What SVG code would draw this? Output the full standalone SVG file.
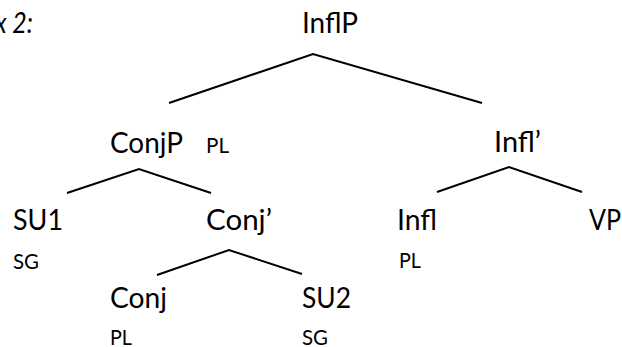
<svg xmlns="http://www.w3.org/2000/svg" width="622" height="347" viewBox="0 0 622 347">
  <style>
    .cat { font-family: Lato, "Open Sans", "Noto Sans", sans-serif; font-size: 28px; fill: #000; }
    .feat { font-family: Lato, "Open Sans", "Noto Sans", sans-serif; font-size: 21px; fill: #000; }
    .title { font-family: Lato, "Open Sans", "Noto Sans", sans-serif; font-size: 28px; font-style: italic; fill: #000; }
    .edge { fill: none; stroke: #000; stroke-width: 2; stroke-linejoin: miter; }
  </style>
  <rect width="622" height="347" fill="#fff"/>

  <text class="title" x="-5" y="33" textLength="38" lengthAdjust="spacingAndGlyphs">x 2:</text>

  <!-- branches -->
  <g id="connectors">
    <polyline class="edge" points="169,103 313,54 482,103"/>
    <polyline class="edge" points="67,193 139,169 211,193"/>
    <polyline class="edge" points="437,192 509,167 582,192"/>
    <polyline class="edge" points="157,275 229,250 302,274"/>
  </g>

  <g id="InflP">
    <text class="cat" x="302" y="33" textLength="56" lengthAdjust="spacingAndGlyphs">InflP</text>
  </g>
  <g id="ConjP">
    <text class="cat" x="110" y="153" textLength="73" lengthAdjust="spacingAndGlyphs">ConjP</text>
    <text class="feat" x="206" y="153" textLength="23" lengthAdjust="spacingAndGlyphs">PL</text>
  </g>
  <g id="InflBar">
    <text class="cat" x="494" y="152" textLength="47" lengthAdjust="spacingAndGlyphs">Infl’</text>
  </g>
  <g id="SU1">
    <text class="cat" x="13" y="230" textLength="50" lengthAdjust="spacingAndGlyphs">SU1</text>
    <text class="feat" x="13" y="269" textLength="26" lengthAdjust="spacingAndGlyphs">SG</text>
  </g>
  <g id="ConjBar">
    <text class="cat" x="206" y="230" textLength="66" lengthAdjust="spacingAndGlyphs">Conj’</text>
  </g>
  <g id="Infl">
    <text class="cat" x="397" y="230" textLength="40" lengthAdjust="spacingAndGlyphs">Infl</text>
    <text class="feat" x="399" y="268" textLength="22" lengthAdjust="spacingAndGlyphs">PL</text>
  </g>
  <g id="VP">
    <text class="cat" x="589" y="230" textLength="32" lengthAdjust="spacingAndGlyphs">VP</text>
  </g>
  <g id="Conj">
    <text class="cat" x="110" y="308" textLength="57" lengthAdjust="spacingAndGlyphs">Conj</text>
    <text class="feat" x="110" y="345" textLength="22" lengthAdjust="spacingAndGlyphs">PL</text>
  </g>
  <g id="SU2">
    <text class="cat" x="302" y="308" textLength="49" lengthAdjust="spacingAndGlyphs">SU2</text>
    <text class="feat" x="302" y="345" textLength="26" lengthAdjust="spacingAndGlyphs">SG</text>
  </g>
</svg>
